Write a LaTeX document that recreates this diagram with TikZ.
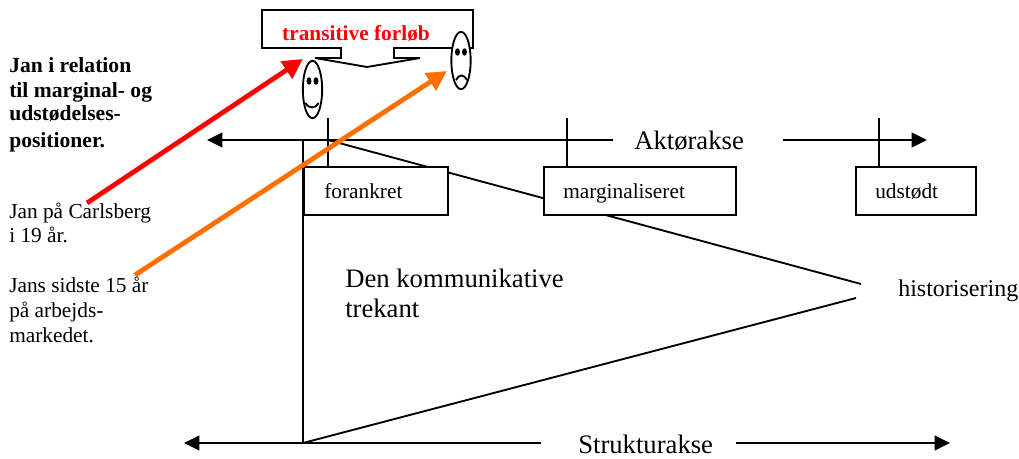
\documentclass[tikz,border=0pt]{standalone}
\usepackage{fontspec}
\setmainfont{Liberation Serif}
\usetikzlibrary{arrows.meta,shapes.geometric}
\definecolor{myorange}{RGB}{255,112,0}
\tikzset{
 line/.style={draw=black,line width=1.4pt},
 axis/.style={line,-{Triangle[length=11.5pt,width=11pt]}},
 boxn/.style={draw=black,line width=1.4pt,fill=white,minimum height=36pt,inner sep=0pt,anchor=north west},
 txt/.style={inner sep=0pt,align=left,anchor=base west,font=\fontsize{16pt}{19pt}\selectfont},
 big/.style={inner sep=0pt,align=left,anchor=base west,font=\fontsize{20pt}{24pt}\selectfont},
 bold/.style={inner sep=0pt,align=left,anchor=base west,font=\fontsize{16.2pt}{19pt}\selectfont\bfseries},
 face/.style={draw=black,line width=1.4pt,fill=white,ellipse,inner sep=0pt,minimum width=14.5pt,minimum height=43pt},
 bigarrow/.style={line width=3.6pt,-{Triangle[length=15pt,width=15pt]}},
 eye/.style={fill=black,ellipse,inner sep=0pt,minimum width=3.7pt,minimum height=5.6pt},
}
\begin{document}
\begin{tikzpicture}[x=0.75pt,y=-0.75pt]
\useasboundingbox (0,0) rectangle (1019,459);
% coordinates
\coordinate (tl) at (207,140); \coordinate (tlb) at (613,140);
\coordinate (trb) at (783,140); \coordinate (tr) at (927,140);
\coordinate (bl) at (184,443); \coordinate (blb) at (541,443);
\coordinate (brb) at (736,443); \coordinate (br) at (950,443);
\coordinate (origin) at (303,443); \coordinate (top) at (303,140);
\coordinate (start) at (328,140);
\coordinate (t1) at (328,118); \coordinate (t2) at (567,118); \coordinate (t3) at (879,118);
\coordinate (b1) at (328,166); \coordinate (b2) at (567,166); \coordinate (b3) at (879,166);
\coordinate (h1) at (861,284); \coordinate (h2) at (856,298);
\coordinate (r0) at (87,203); \coordinate (r1) at (303,59);
\coordinate (o0) at (135,275); \coordinate (o1) at (447,71);
% axes and triangle
\draw[axis] (tlb) -- (tl);
\draw[axis] (trb) -- (tr);
\draw[axis] (blb) -- (bl);
\draw[axis] (brb) -- (br);
\draw[line] (top) -- (origin);
\draw[line] (start) -- (h1);
\draw[line] (origin) -- (h2);
\draw[line] (t1) -- (b1);
\draw[line] (t2) -- (b2);
\draw[line] (t3) -- (b3);
% boxes
\node[boxn,minimum width=108pt] (fo) at (303,166) {};
\node[txt] at (324,198.5) {forankret};
\node[boxn,minimum width=144pt] (ma) at (543,166) {};
\node[txt] at (563,198.5) {marginaliseret};
\node[boxn,minimum width=90pt] (ud) at (855,166) {};
\node[txt] at (875,198.5) {udstødt};
% callout
\draw[line,fill=white,line join=miter] (262,10) -- (262,48) -- (341,48) -- (341,58) -- (315,58)
  -- (367,67) -- (420,58) -- (394,58) -- (394,48) -- (473,48) -- (473,10) -- cycle;
\node[inner sep=0pt,anchor=base,text=red,font=\fontsize{16pt}{19pt}\selectfont\bfseries] (tf) at (356,40.5) {transitive forløb};
% faces
\node[face] (f1) at (312.5,89.5) {};
\node[eye] at (309,81) {}; \node[eye] at (316,81) {};
\draw[line] (305.5,103) .. controls (309,109) and (315,109) .. (318.5,103);
\node[face] (f2) at (461,60.5) {};
\node[eye] at (457.5,52) {}; \node[eye] at (464.5,52) {};
\draw[line] (456,80) .. controls (459,74) and (464,74) .. (467,80);
% big arrows
\draw[bigarrow,draw=red,fill=red] (r0) -- (r1);
\draw[bigarrow,draw=myorange,fill=myorange] (o0) -- (o1);
% texts
\node[bold] at (9,73) {Jan i relation};
\node[bold] at (9,98) {til marginal- og};
\node[bold] at (9,121) {udstødelses-};
\node[bold] at (9,148) {positioner.};
\node[txt] at (9,219) {Jan på Carlsberg};
\node[txt] at (9,243) {i 19 år.};
\node[txt] at (9,292) {Jans sidste 15 år};
\node[txt] at (9,317) {på arbejds-};
\node[txt] at (9,342) {markedet.};
\node[big] at (634,150) {Aktørakse};
\node[big] at (578,453) {Strukturakse};
\node[big] at (345,287) {Den kommunikative};
\node[big] at (345,317) {trekant};
\node[inner sep=0pt,anchor=base west,font=\fontsize{18pt}{22pt}\selectfont] at (898,296.5) {historisering};
\end{tikzpicture}
\end{document}
